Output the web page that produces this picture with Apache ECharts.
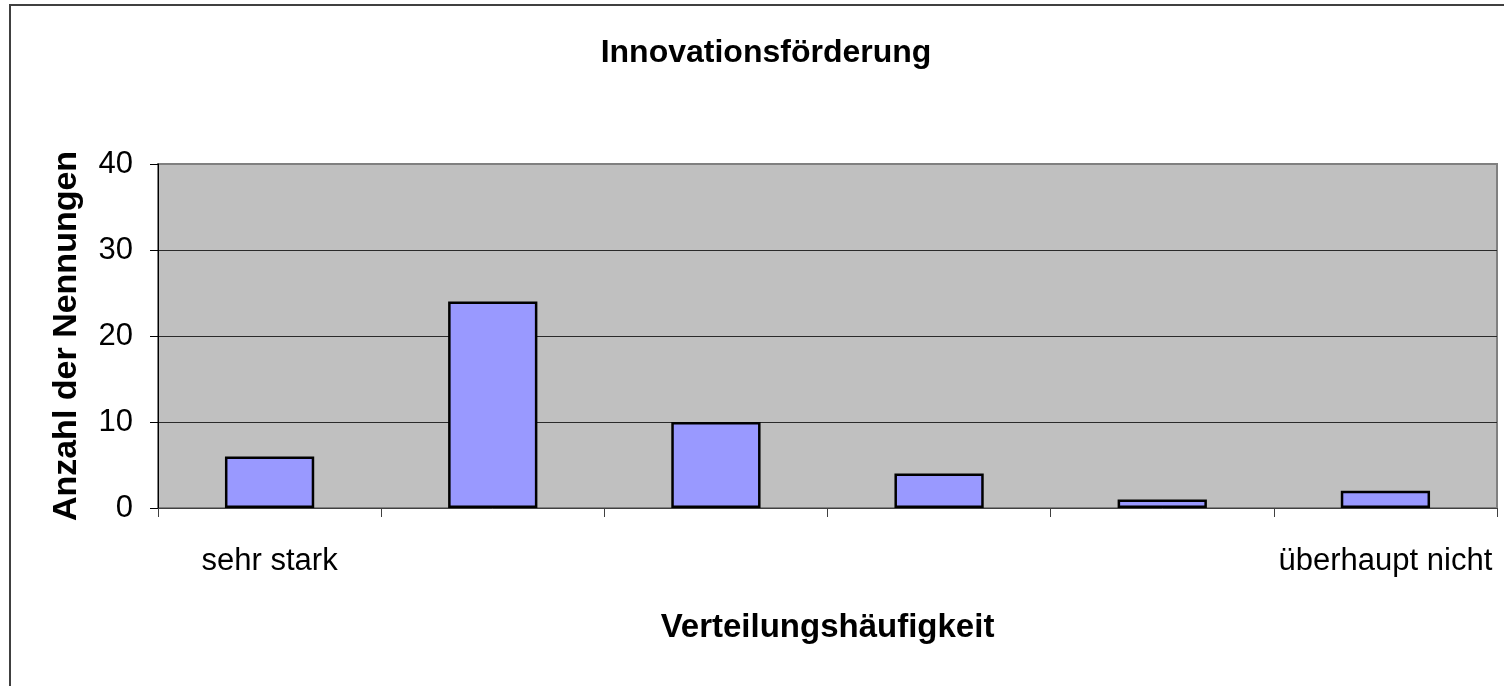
<!DOCTYPE html>
<html>
<head>
<meta charset="utf-8">
<script src="https://cdn.jsdelivr.net/npm/echarts@6/dist/echarts.min.js"></script>
<style>
  html, body { margin: 0; padding: 0; background: #fff; }
  #chart { width: 1504px; height: 686px; }
</style>
</head>
<body>
<div id="chart"></div>
<script>
const titleText = 'Innovationsförderung';
const xAxisTitle = 'Verteilungshäufigkeit';
const yAxisTitle = 'Anzahl der Nennungen';
const categories = ['sehr stark', '2', '3', '4', '5', 'überhaupt nicht'];
const shownLabels = ['sehr stark', 'überhaupt nicht'];
const values = [6, 24, 10, 4, 1, 2];
const yTicks = [0, 10, 20, 30, 40];

const FONT = '"Liberation Sans", Arial, sans-serif';
const chart = echarts.init(document.getElementById('chart'));
chart.setOption({
  animation: false,
  backgroundColor: '#ffffff',
  title: {
    text: titleText,
    left: 766,
    top: 37,
    padding: 0,
    textAlign: 'center',
    textStyle: { fontFamily: FONT, fontSize: 32, fontWeight: 'bold', color: '#000' }
  },
  graphic: [{
    type: 'rect',
    shape: { x: 10, y: 5, width: 1700, height: 1000 },
    style: { fill: null, stroke: '#404040', lineWidth: 2 },
    silent: true,
    z: -10
  }],
  grid: {
    left: 158, right: 7, top: 164, bottom: 178,
    show: true,
    backgroundColor: '#C0C0C0',
    borderColor: '#808080',
    borderWidth: 2
  },
  xAxis: {
    type: 'category',
    data: categories,
    boundaryGap: true,
    name: xAxisTitle,
    nameLocation: 'middle',
    nameGap: 103,
    nameTextStyle: { fontFamily: FONT, fontSize: 33, fontWeight: 'bold', color: '#000' },
    axisLine: { show: true, lineStyle: { color: '#404040', width: 1 } },
    axisTick: { show: true, length: 9, alignWithLabel: false, interval: 0, lineStyle: { color: '#404040' } },
    axisLabel: {
      interval: 0,
      margin: 38,
      fontFamily: FONT, fontSize: 31, color: '#000',
      formatter: v => shownLabels.indexOf(v) >= 0 ? v : ''
    },
    splitLine: { show: false }
  },
  yAxis: {
    type: 'value',
    min: yTicks[0],
    max: yTicks[yTicks.length - 1],
    interval: 10,
    name: yAxisTitle,
    nameLocation: 'middle',
    nameGap: 74,
    nameTextStyle: { fontFamily: FONT, fontSize: 34, fontWeight: 'bold', color: '#000' },
    axisLine: { show: true, lineStyle: { color: '#000', width: 1 } },
    axisTick: { show: true, length: 8, lineStyle: { color: '#000' } },
    axisLabel: { margin: 25, fontFamily: FONT, fontSize: 31, color: '#000' },
    splitLine: { show: true, showMinLine: false, showMaxLine: false, lineStyle: { color: '#2a2a2a', width: 1.2 } }
  },
  series: [{
    type: 'bar',
    data: values,
    barWidth: '40%',
    itemStyle: { color: '#9999FF', borderColor: '#000', borderWidth: 2.5 }
  }]
});
</script>
</body>
</html>
